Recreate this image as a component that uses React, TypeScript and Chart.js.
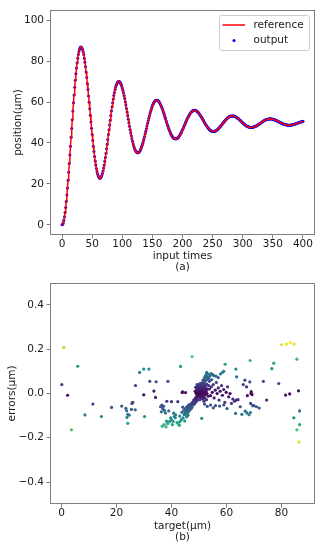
import React, { useEffect, useRef } from 'react';
import { Chart, registerables } from 'chart.js';

Chart.register(...registerables);

const FONT = "'DejaVu Sans', 'Noto Sans', sans-serif";
const TXT = '#1a1a1a';
const FRAME = '#808080';

// ---- (a) position vs input times, one value per time step 0..400 ----
const positions: number[] = [
  0.0, 0.2, 1.0, 2.2, 3.9, 6.0, 8.5, 11.4, 14.6, 18.0,
  21.8, 25.7, 29.9, 34.1, 38.4, 42.8, 47.1, 51.4, 55.6, 59.6,
  63.5, 67.2, 70.6, 73.8, 76.6, 79.2, 81.4, 83.2, 84.7, 85.8,
  86.5, 86.9, 86.8, 86.4, 85.7, 84.6, 83.2, 81.4, 79.4, 77.2,
  74.7, 72.0, 69.1, 66.1, 63.0, 59.9, 56.7, 53.5, 50.3, 47.2,
  44.1, 41.2, 38.4, 35.8, 33.4, 31.2, 29.2, 27.5, 26.0, 24.8,
  23.9, 23.3, 22.9, 22.8, 23.0, 23.4, 24.1, 25.1, 26.3, 27.7,
  29.2, 31.0, 32.9, 35.0, 37.2, 39.4, 41.7, 44.1, 46.5, 48.8,
  51.1, 53.4, 55.6, 57.7, 59.7, 61.5, 63.2, 64.7, 66.1, 67.3,
  68.2, 69.0, 69.6, 69.9, 70.1, 70.0, 69.8, 69.3, 68.7, 67.9,
  66.9, 65.8, 64.6, 63.2, 61.7, 60.1, 58.5, 56.8, 55.1, 53.3,
  51.6, 49.9, 48.2, 46.5, 45.0, 43.5, 42.1, 40.8, 39.6, 38.5,
  37.6, 36.8, 36.2, 35.7, 35.4, 35.2, 35.2, 35.3, 35.6, 36.0,
  36.5, 37.2, 38.0, 38.9, 39.8, 40.9, 42.0, 43.2, 44.5, 45.7,
  47.0, 48.3, 49.6, 50.8, 52.1, 53.2, 54.4, 55.4, 56.4, 57.3,
  58.2, 58.9, 59.5, 60.0, 60.4, 60.7, 60.9, 60.9, 60.9, 60.7,
  60.5, 60.1, 59.7, 59.1, 58.5, 57.8, 57.1, 56.2, 55.4, 54.5,
  53.6, 52.6, 51.7, 50.7, 49.8, 48.9, 48.0, 47.1, 46.3, 45.6,
  44.9, 44.2, 43.7, 43.2, 42.8, 42.4, 42.2, 42.0, 42.0, 42.0,
  42.0, 42.2, 42.4, 42.7, 43.1, 43.5, 44.0, 44.6, 45.1, 45.8,
  46.4, 47.1, 47.8, 48.5, 49.2, 49.9, 50.6, 51.2, 51.9, 52.5,
  53.1, 53.6, 54.1, 54.5, 54.9, 55.2, 55.5, 55.7, 55.8, 55.9,
  56.0, 55.9, 55.8, 55.7, 55.5, 55.2, 54.9, 54.6, 54.2, 53.8,
  53.3, 52.8, 52.4, 51.8, 51.3, 50.8, 50.3, 49.8, 49.3, 48.8,
  48.4, 47.9, 47.5, 47.1, 46.8, 46.5, 46.2, 46.0, 45.9, 45.7,
  45.7, 45.6, 45.6, 45.7, 45.8, 45.9, 46.1, 46.3, 46.5, 46.8,
  47.1, 47.4, 47.8, 48.1, 48.5, 48.9, 49.2, 49.6, 50.0, 50.4,
  50.7, 51.1, 51.4, 51.7, 52.0, 52.3, 52.5, 52.7, 52.9, 53.0,
  53.1, 53.2, 53.2, 53.2, 53.2, 53.2, 53.1, 53.0, 52.8, 52.6,
  52.5, 52.2, 52.0, 51.8, 51.5, 51.2, 51.0, 50.7, 50.4, 50.1,
  49.8, 49.6, 49.3, 49.1, 48.8, 48.6, 48.4, 48.2, 48.1, 47.9,
  47.8, 47.7, 47.7, 47.6, 47.6, 47.6, 47.7, 47.7, 47.8, 47.9,
  48.0, 48.1, 48.3, 48.4, 48.6, 48.8, 49.0, 49.2, 49.4, 49.6,
  49.8, 50.0, 50.2, 50.4, 50.6, 50.8, 51.0, 51.1, 51.3, 51.4,
  51.5, 51.6, 51.6, 51.7, 51.7, 51.8, 51.8, 51.7, 51.7, 51.7,
  51.6, 51.5, 51.4, 51.3, 51.2, 51.1, 50.9, 50.8, 50.6, 50.5,
  50.3, 50.2, 50.0, 49.9, 49.7, 49.6, 49.5, 49.3, 49.2, 49.1,
  49.0, 48.9, 48.9, 48.8, 48.8, 48.7, 48.7, 48.7, 48.7, 48.7,
  48.8, 48.8, 48.9, 48.9, 49.0, 49.1, 49.2, 49.3, 49.4, 49.5,
  49.6, 49.7, 49.8, 49.9, 50.0, 50.1, 50.3, 50.4, 50.4, 50.5,
  50.6,
];

const xTicksA = [0, 50, 100, 150, 200, 250, 300, 350, 400];
const yTicksA = [0, 20, 40, 60, 80, 100];

// ---- (b) errors vs target: [target, error] ----
const errorSamples: [number, number][] = [
  // far left
  [0.8, 0.208], [0.1, 0.040], [2.2, -0.008], [3.6, -0.164], [5.9, 0.123],
  [8.5, -0.097], [11.4, -0.048], [14.5, -0.104], [18.2, -0.063], [21.9, -0.057],
  // 22..35
  [23.4, -0.067], [23.7, -0.078], [23.8, -0.108], [24.1, -0.094], [24.1, -0.135],
  [24.6, -0.098], [25.4, -0.072], [25.6, -0.045], [25.9, -0.040], [26.8, -0.074],
  [26.9, 0.036], [28.4, 0.095], [29.9, 0.110], [31.8, 0.110], [30.2, -0.104],
  [29.9, -0.006], [32.1, 0.055], [33.6, 0.011], [34.2, -0.018], [34.4, 0.053],
  // 35..45 blue
  [36.0, -0.060], [36.3, -0.083], [36.5, -0.052], [36.8, -0.068], [37.1, -0.058],
  [37.4, -0.076], [37.8, -0.088], [38.7, 0.055], [38.3, -0.035], [39.0, -0.079],
  [40.0, -0.037], [40.8, -0.089], [41.5, -0.096], [42.3, -0.037], [43.3, 0.122],
  [43.0, -0.102], [43.8, -0.085], [44.1, -0.062], [44.5, -0.076], [43.9, 0.004],
  [45.1, 0.004], [44.0, 0.007],
  // 36..46 green / teal lower band
  [36.6, -0.148], [37.3, -0.140], [38.0, -0.151], [38.6, -0.136], [39.3, -0.126],
  [40.0, -0.118], [40.6, -0.126], [41.4, -0.110], [42.0, -0.131], [42.5, -0.138],
  [42.9, -0.144], [43.1, -0.127], [43.6, -0.118], [44.2, -0.110], [44.8, -0.124],
  [45.5, -0.106], [46.0, -0.098], [41.0, -0.104], [39.7, -0.110], [38.2, -0.125],
  [40.3, -0.141],
  [47.5, 0.167], [51.0, -0.112],
  // diagonal band
  [44.6, -0.095], [45.0, -0.088], [45.2, -0.080], [45.5, -0.090], [45.7, -0.072],
  [45.9, -0.078], [46.1, -0.065], [46.3, -0.070], [46.5, -0.060], [46.6, -0.075],
  [46.8, -0.055], [47.0, -0.062], [47.1, -0.048], [47.3, -0.055], [47.5, -0.042],
  [47.6, -0.050], [47.8, -0.038], [48.0, -0.045], [48.1, -0.030], [48.3, -0.036],
  [48.5, -0.025], [48.6, -0.032], [48.8, -0.020], [49.0, -0.026], [49.1, -0.015],
  [49.3, -0.020], [49.5, -0.010], [49.7, -0.014], [49.9, -0.005], [50.1, -0.008],
  [46.0, -0.085], [46.4, -0.050], [47.2, -0.068], [45.4, -0.100], [44.9, -0.070],
  [45.3, -0.065], [45.8, -0.058], [46.2, -0.080], [46.9, -0.070], [47.4, -0.062],
  [47.9, -0.052], [48.4, -0.046], [48.9, -0.038], [49.4, -0.030], [45.1, -0.075],
  // dense cluster near 50
  [48.6, 0.010], [48.9, 0.002], [49.1, 0.020], [49.2, -0.004], [49.4, 0.008],
  [49.5, 0.030], [49.6, -0.002], [49.7, 0.015], [49.8, 0.040], [49.9, 0.005],
  [50.0, -0.012], [50.0, 0.022], [50.1, 0.010], [50.2, 0.035], [50.2, -0.002],
  [50.3, 0.018], [50.4, 0.045], [50.4, 0.004], [50.5, -0.015], [50.5, 0.028],
  [50.6, 0.012], [50.7, -0.005], [50.7, 0.038], [50.8, 0.020], [50.9, 0.003],
  [50.9, -0.020], [51.0, 0.030], [51.0, 0.010], [51.1, 0.048], [51.2, -0.008],
  [51.2, 0.018], [51.3, 0.036], [51.4, 0.002], [51.4, -0.025], [51.5, 0.025],
  [51.6, 0.010], [51.6, 0.045], [51.7, -0.012], [51.8, 0.030], [51.9, 0.005],
  [52.0, 0.052], [52.0, -0.020], [52.1, 0.018], [52.2, 0.038], [52.3, -0.005],
  [52.4, 0.026], [52.5, 0.060], [52.6, 0.010], [52.7, -0.028], [52.8, 0.042],
  [52.9, 0.000], [53.0, 0.020], [53.2, 0.065], [53.3, -0.012], [53.5, 0.035],
  [49.3, 0.040], [48.8, 0.028], [50.3, -0.028], [51.8, -0.035], [49.0, -0.035],
  // upper right band
  [51.5, 0.060], [52.0, 0.070], [52.3, 0.078], [52.6, 0.085], [53.0, 0.075],
  [53.4, 0.088], [53.6, 0.070], [54.0, 0.080], [54.4, 0.090], [55.0, 0.085],
  [55.5, 0.080], [56.2, 0.078], [53.8, 0.055], [54.6, 0.062], [52.8, 0.095],
  [57.0, 0.072], [57.8, 0.088], [58.5, 0.095], [59.0, 0.100], [59.5, 0.132],
  [63.4, 0.110], [63.7, 0.075],
  // spread to the right
  [53.8, 0.020], [54.2, -0.010], [54.5, 0.030], [54.8, 0.005], [55.2, 0.040],
  [55.5, -0.020], [55.9, 0.015], [56.3, 0.050], [56.6, 0.000], [57.0, 0.025],
  [57.3, -0.030], [57.7, 0.010], [58.2, 0.035], [58.5, -0.008], [59.0, 0.018],
  [59.4, -0.040], [59.9, 0.005], [60.4, 0.030], [60.8, -0.015], [61.3, 0.000],
  [61.8, -0.045], [62.3, -0.025], [62.9, -0.035], [63.5, -0.030], [64.2, -0.028],
  [65.0, -0.060], [66.1, 0.040], [66.7, 0.060], [67.3, 0.030], [67.6, -0.010],
  [68.5, 0.052], [68.9, 0.000], [69.3, -0.005], [69.0, 0.008], [68.8, -0.045],
  [69.5, -0.055],
  [54.2, -0.052], [56.0, -0.055], [57.5, -0.057], [59.0, -0.052], [60.2, -0.068],
  [63.3, -0.090], [65.6, -0.094], [66.8, -0.080], [67.4, -0.088], [68.2, -0.096],
  [68.7, -0.086], [70.0, -0.055], [70.9, -0.060], [71.9, -0.066], [53.0, -0.058],
  [52.0, -0.048], [55.2, -0.065],
  [68.6, 0.149], [76.5, 0.112], [77.2, 0.137], [73.4, 0.055], [79.0, 0.045],
  [74.6, -0.030],
  // far right
  [80.0, 0.220], [81.8, 0.223], [83.3, 0.230], [84.6, 0.223], [85.6, 0.155],
  [86.2, 0.012], [81.5, -0.007], [83.0, -0.002], [84.5, -0.110], [86.6, -0.079],
  [85.6, -0.164], [86.6, -0.141], [86.4, -0.219],
];

const xTicksB = [0, 20, 40, 60, 80];
const yTicksB = [-0.4, -0.2, 0, 0.2, 0.4];

// viridis colormap stops (0, 0.1, ..., 1)
const VIRIDIS = ['#440154', '#482475', '#414487', '#355f8d', '#2a788e', '#21918c', '#22a884', '#44bf70', '#7ad151', '#bddf26', '#fde725'];
function hexToRgb(h: string) {
  return [parseInt(h.slice(1, 3), 16), parseInt(h.slice(3, 5), 16), parseInt(h.slice(5, 7), 16)];
}
function viridis(t: number) {
  const v = Math.max(0, Math.min(1, t)) * 10;
  const i = Math.min(9, Math.floor(v));
  const f = v - i;
  const a = hexToRgb(VIRIDIS[i]);
  const b = hexToRgb(VIRIDIS[i + 1]);
  const c = a.map((x, k) => Math.round(x + (b[k] - x) * f));
  return `rgb(${c[0]},${c[1]},${c[2]})`;
}

const framePlugin = {
  id: 'mplFrame',
  afterDatasetsDraw(chart: any) {
    const { ctx, chartArea: a } = chart;
    ctx.save();
    ctx.strokeStyle = FRAME;
    ctx.lineWidth = 1;
    ctx.strokeRect(Math.round(a.left) + 0.5, Math.round(a.top) + 0.5, Math.round(a.right - a.left) - 1, Math.round(a.bottom - a.top) - 1);
    ctx.restore();
  },
};

const legendPlugin = {
  id: 'mplLegend',
  afterDraw(chart: any) {
    const o = chart.options.plugins.mplLegend;
    if (!o || !o.display) return;
    const { ctx, chartArea: a } = chart;
    const w = 90, h = 35;
    const x = Math.round(a.right - 6 - w) + 0.5;
    const y = Math.round(a.top + 5) + 0.5;
    ctx.save();
    ctx.beginPath();
    if (ctx.roundRect) ctx.roundRect(x, y, w, h, 2.5); else ctx.rect(x, y, w, h);
    ctx.fillStyle = 'rgba(255,255,255,0.8)';
    ctx.fill();
    ctx.strokeStyle = '#cccccc';
    ctx.lineWidth = 1;
    ctx.stroke();
    chart.data.datasets.forEach((ds: any, i: number) => {
      const cy = y + 9.5 + i * 15.5;
      if (ds.showLine) {
        ctx.strokeStyle = ds.borderColor;
        ctx.lineWidth = ds.borderWidth;
        ctx.beginPath();
        ctx.moveTo(x + 3, cy);
        ctx.lineTo(x + 25.5, cy);
        ctx.stroke();
      } else {
        ctx.fillStyle = ds.pointBackgroundColor;
        ctx.beginPath();
        ctx.arc(x + 14.5, cy, ds.pointRadius, 0, Math.PI * 2);
        ctx.fill();
      }
      ctx.fillStyle = TXT;
      ctx.font = `10.5px ${FONT}`;
      ctx.textBaseline = 'middle';
      ctx.textAlign = 'left';
      ctx.fillText(ds.label, x + 34, cy);
    });
    ctx.restore();
  },
};

function baseAxis(ticks: number[], min: number, max: number, fit: (s: any) => void, title: any, fmt?: (v: number) => string, pad = 2.5) {
  return {
    type: 'linear',
    min,
    max,
    afterBuildTicks: (s: any) => { s.ticks = ticks.map((v) => ({ value: v })); },
    afterFit: fit,
    grid: { display: true, drawOnChartArea: false, drawTicks: true, tickLength: 3.5, color: FRAME, tickColor: FRAME, lineWidth: 1 },
    border: { display: false },
    ticks: {
      font: { family: FONT, size: 10.5, lineHeight: 1 },
      color: TXT,
      padding: pad,
      maxRotation: 0,
      minRotation: 0,
      autoSkip: false,
      ...(fmt ? { callback: (v: any) => fmt(Number(v)) } : {}),
    },
    title: { display: true, color: TXT, ...title },
  };
}

export default function App() {
  const refA = useRef<HTMLCanvasElement>(null);
  const refB = useRef<HTMLCanvasElement>(null);

  useEffect(() => {
    const series = positions.map((y, t) => ({ x: t, y }));
    const chartA = new Chart(refA.current as HTMLCanvasElement, {
      type: 'scatter',
      data: {
        datasets: [
          { label: 'reference', data: series, showLine: true, borderColor: '#ff0000', borderWidth: 1.5, pointRadius: 0, tension: 0 } as any,
          { label: 'output', data: series, showLine: false, pointRadius: 1.5, pointBackgroundColor: '#0000ff', pointBorderWidth: 0, pointHoverRadius: 1.5 } as any,
        ],
      },
      options: {
        animation: false,
        responsive: false,
        events: [],
        layout: { padding: { top: 10, right: 9, left: 0, bottom: 0 } },
        plugins: { legend: { display: false }, tooltip: { enabled: false }, mplLegend: { display: true } } as any,
        scales: {
          x: baseAxis(xTicksA, -20, 420, (s) => { s.height = 40; }, {
            text: ['input times', '(a)'],
            font: { family: FONT, size: 10.5, lineHeight: 1.05 },
            padding: { top: 0, bottom: 2.5 },
          }, undefined, 0.5) as any,
          y: baseAxis(yTicksA, -5, 105, (s) => { s.width = 50; }, {
            text: 'position(µm)',
            font: { family: FONT, size: 10.5 },
            padding: { top: 12, bottom: 0 },
          }) as any,
        },
      },
      plugins: [framePlugin, legendPlugin],
    });

    const maxAbs = Math.max(...errorSamples.map((p) => Math.abs(p[1])));
    const colors = errorSamples.map((p) => viridis(Math.abs(p[1]) / maxAbs));
    const chartB = new Chart(refB.current as HTMLCanvasElement, {
      type: 'scatter',
      data: {
        datasets: [
          {
            label: 'errors',
            data: errorSamples.map(([x, y]) => ({ x, y })),
            pointRadius: 1.6,
            pointBackgroundColor: colors,
            pointBorderWidth: 0,
            pointHoverRadius: 1.6,
          } as any,
        ],
      },
      options: {
        animation: false,
        responsive: false,
        events: [],
        layout: { padding: { top: 5, right: 9, left: 0, bottom: 0 } },
        plugins: { legend: { display: false }, tooltip: { enabled: false } },
        scales: {
          x: baseAxis(xTicksB, -4.2, 92.2, (s) => { s.height = 45.8; }, {
            text: ['target(µm)', '(b)'],
            font: { family: FONT, size: 10.5, lineHeight: 1.05 },
            padding: { top: 0, bottom: 7.5 },
          }, undefined, 0.5) as any,
          y: baseAxis(yTicksB, -0.5, 0.5, (s) => { s.width = 50; }, {
            text: 'errors(µm)',
            font: { family: FONT, size: 10.5 },
            padding: { top: 5.5, bottom: 0 },
          }, (v) => (v < 0 ? '\u2212' : '') + Math.abs(v).toFixed(1)) as any,
        },
      },
      plugins: [framePlugin],
    });

    return () => {
      chartA.destroy();
      chartB.destroy();
    };
  }, []);

  return (
    <div style={{ position: 'absolute', left: 0, top: 0, width: 324, height: 550, background: '#ffffff' }}>
      <canvas ref={refA} width={324} height={275} style={{ display: 'block', width: 324, height: 275 }} />
      <canvas ref={refB} width={324} height={275} style={{ display: 'block', width: 324, height: 275 }} />
    </div>
  );
}
